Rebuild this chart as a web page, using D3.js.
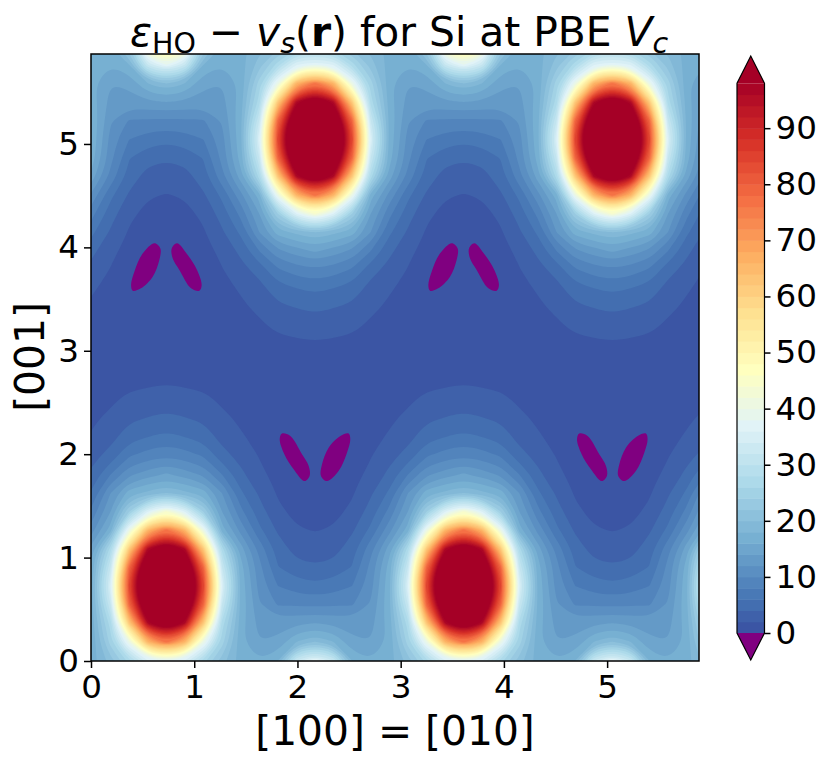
<!DOCTYPE html>
<html lang="en">
<head>
<meta charset="utf-8">
<title>Si PBE Vc</title>
<script src="https://cdn.jsdelivr.net/npm/d3@7"></script>
<style>
  body { margin: 0; background: #fff; }
  text { font-family: "DejaVu Sans", sans-serif; fill: #000; }
  .tick text { font-family: "DejaVu Sans", sans-serif; font-size: 32.6px; fill: #000; }
  .tick line { stroke: #000; stroke-width: 1.5px; }
</style>
</head>
<body>
<script>
// values, one list per column of the repeating cell
// rows go from y = -0.175 upward in steps of 0.18
var col0 = [25,38,77,108,125,135,125,108,77,44,20,14.3,9.6,6.6,4.5,3.05,1.8,1,.7,.5,.4,.3,.3,.4,.6,1.2,1.9,3,4.2,6.5,9.6,14,20,38,60];
var col1 = [24,36,66,96,113,120,113,96,66,36,18.5,13,9,6,4.1,2.8,1.6,1,.7,.5,.4,.3,.3,.4,.6,1.5,2.2,3.2,4.7,7,9.7,13.7,18,32,50];
var col2 = [21,27,40,62,79,85,79,62,40,24,17,11.5,7.8,5.2,3.6,2.4,1.5,.9,.6,.5,.4,.4,.5,1.3,1.8,2.4,3.7,5.1,6.1,8,9.8,13.2,14.5,18,24];
var col3 = [19,21,25,27,32,36,32,27,17,14,12,8,4.8,3.3,2.4,1.7,1.2,.8,.7,.7,.9,1.5,1.9,2.5,3.7,4.9,6.5,9.3,10.7,11.2,12.3,13.3,14,16,18];
var col4 = [17.5,17,16.5,17,17.5,17.5,17,15,11.3,8.6,6.4,4.5,3.3,2.2,1.7,1.3,1,.7,1,1.3,1.7,2.2,3.3,4.5,6.4,8.6,11.3,15,17,17.5,17.5,17,16.5,17,17.5];
var cellCols = [col0, col1, col2, col3, col4];

// negative pockets (outlines in axis units)
var lobeLeftX = [.614,.672,.662,.598,.484,.404,.388,.42,.50];
var lobeLeftY = [4.04,3.99,3.878,3.717,3.604,3.581,3.636,3.765,3.94];
var lobeRightX = [.833,.782,.791,.856,.969,1.05,1.072,1.027,.937];
var lobeRightY = [4.04,3.99,3.894,3.781,3.604,3.581,3.636,3.781,3.926];

var levels = d3.range(0, 100, 2);
var xTicks = [0,1,2,3,4,5];
var yTicks = [0,1,2,3,4,5];
var barTicks = [0,10,20,30,40,50,60,70,80,90];
var rdylbu = ["#313695","#4575b4","#74add1","#abd9e9","#e0f3f8","#ffffbf","#fee090","#fdae61","#f46d43","#d73027","#a50026"];

var w = 830, h = 764;
var left = 91, right = 699, top_ = 54, bottom = 661;

var xScale = d3.scaleLinear().domain([0, 5.89]).range([left, right]);
var yScale = d3.scaleLinear().domain([0, 5.87]).range([bottom, top_]);
var cmap = d3.scaleLinear().domain(d3.range(11).map(function(i) { return i / 10; })).range(rdylbu);
var norm = d3.scaleLinear().domain([-4, 98]).range([0, 1]);

var svg = d3.select("body").append("svg").attr("width", w).attr("height", h);

svg.append("clipPath").attr("id", "plot").append("rect")
  .attr("x", left).attr("y", top_).attr("width", right - left).attr("height", bottom - top_);

// lay the cell out over the whole plane (mirror in x, two fold rotation)
var step = 0.18, x0 = 0.73, y0 = -0.175;
var kFirst = -6, kLast = 30;
var nx = kLast - kFirst + 1, ny = col0.length;
var values = [];
for (var j = 0; j < ny; j++) {
  for (var c = kFirst; c <= kLast; c++) {
    var k = ((c % 16) + 16) % 16;
    if (k > 8) k = 16 - k;
    values.push(k <= 4 ? cellCols[k][j] : cellCols[8 - k][ny - 1 - j]);
  }
}

var gridX = d3.scaleLinear().domain([0.5, nx - 0.5]).range([x0 + kFirst * step, x0 + kLast * step]);
var gridY = d3.scaleLinear().domain([0.5, ny - 0.5]).range([y0, y0 + (ny - 1) * step]);

var ringLine = d3.line()
  .x(function(p) { return xScale(gridX(p[0])); })
  .y(function(p) { return yScale(gridY(p[1])); })
  .curve(d3.curveBasisClosed);

var contours = d3.contours().size([nx, ny]).thresholds(levels)(values);

var plot = svg.append("g").attr("clip-path", "url(#plot)");

plot.selectAll("path.band")
  .data(contours)
  .enter()
  .append("path")
  .attr("class", "band")
  .attr("fill-rule", "evenodd")
  .attr("fill", function(d) { return cmap(norm(Math.min(d.value + 1, 98))); })
  .attr("d", function(d) {
    var s = "";
    d.coordinates.forEach(function(poly) {
      poly.forEach(function(ring) {
        s += ringLine(ring.slice(0, -1));
      });
    });
    return s;
  });

// purple pockets, four pairs
var lobeLine = d3.line()
  .x(function(p) { return xScale(p[0]); })
  .y(function(p) { return yScale(p[1]); })
  .curve(d3.curveCatmullRomClosed.alpha(0.5));

var lobes = [];
[[lobeLeftX, lobeLeftY], [lobeRightX, lobeRightY]].forEach(function(l) {
  [0, 2.88].forEach(function(dx) {
    lobes.push(l[0].map(function(x, i) { return [x + dx, l[1][i]]; }));
    lobes.push(l[0].map(function(x, i) { return [2.9 - x + dx, 5.78 - l[1][i]]; }));
  });
});

plot.selectAll("path.lobe")
  .data(lobes)
  .enter()
  .append("path")
  .attr("class", "lobe")
  .attr("fill", "#800080")
  .attr("d", lobeLine);

// frame
svg.append("rect")
  .attr("x", left).attr("y", top_).attr("width", right - left).attr("height", bottom - top_)
  .attr("fill", "none").attr("stroke", "#000").attr("stroke-width", 1.5);

// axes
var xAxis = d3.axisBottom(xScale).tickValues(xTicks).tickSize(7).tickPadding(7).tickFormat(d3.format("d"));
var yAxis = d3.axisLeft(yScale).tickValues(yTicks).tickSize(7).tickPadding(5).tickFormat(d3.format("d"));

var gx = svg.append("g").attr("transform", "translate(0," + bottom + ")").call(xAxis);
var gy = svg.append("g").attr("transform", "translate(" + left + ",0)").call(yAxis);
gx.select(".domain").remove();
gy.select(".domain").remove();

// titles
var title = svg.append("text").attr("x", 399).attr("y", 46).attr("text-anchor", "middle").style("font-size", "40.8px");
title.append("tspan").attr("font-style", "italic").text("ε");
title.append("tspan").attr("dy", 7).style("font-size", "28.5px").text("HO");
title.append("tspan").attr("dy", -7).text(" − ");
title.append("tspan").attr("font-style", "italic").text("v");
title.append("tspan").attr("dy", 7).attr("font-style", "italic").style("font-size", "28.5px").text("s");
title.append("tspan").attr("dy", -7).text("(");
title.append("tspan").attr("font-weight", "bold").text("r");
title.append("tspan").text(") for Si at PBE ");
title.append("tspan").attr("font-style", "italic").text("V");
title.append("tspan").attr("dy", 7).attr("font-style", "italic").style("font-size", "28.5px").text("c");

svg.append("text").attr("x", 395).attr("y", 745).attr("text-anchor", "middle").style("font-size", "40.8px").text("[100] = [010]");
svg.append("text").attr("transform", "translate(44,357) rotate(-90)").attr("text-anchor", "middle").style("font-size", "40.8px").text("[001]");

// colorbar
var barLeft = 737, barRight = 764.5, barTop = 83.3, barBottom = 633, apexTop = 56, apexBottom = 660;
var barScale = d3.scaleLinear().domain([0, 98]).range([barBottom, barTop]);
var bar = svg.append("g");

bar.selectAll("rect")
  .data(levels.slice(0, -1))
  .enter()
  .append("rect")
  .attr("x", barLeft)
  .attr("width", barRight - barLeft)
  .attr("y", function(d) { return barScale(d + 2); })
  .attr("height", function(d) { return barScale(d) - barScale(d + 2) + 0.5; })
  .attr("fill", function(d) { return cmap(norm(d + 1)); });

var barMid = (barLeft + barRight) / 2;
bar.append("path")
  .attr("d", "M" + barLeft + "," + barTop + "L" + barMid + "," + apexTop + "L" + barRight + "," + barTop + "Z")
  .attr("fill", "#a50026");
bar.append("path")
  .attr("d", "M" + barLeft + "," + barBottom + "L" + barMid + "," + apexBottom + "L" + barRight + "," + barBottom + "Z")
  .attr("fill", "#800080");
bar.append("path")
  .attr("d", "M" + barLeft + "," + barTop + "L" + barMid + "," + apexTop + "L" + barRight + "," + barTop +
    "L" + barRight + "," + barBottom + "L" + barMid + "," + apexBottom + "L" + barLeft + "," + barBottom + "Z")
  .attr("fill", "none").attr("stroke", "#000").attr("stroke-width", 1.2);

var barAxis = d3.axisRight(barScale).tickValues(barTicks).tickSize(6).tickPadding(5).tickFormat(d3.format("d"));
var gb = svg.append("g").attr("transform", "translate(" + barRight + ",0)").call(barAxis);
gb.select(".domain").remove();
</script>
</body>
</html>
